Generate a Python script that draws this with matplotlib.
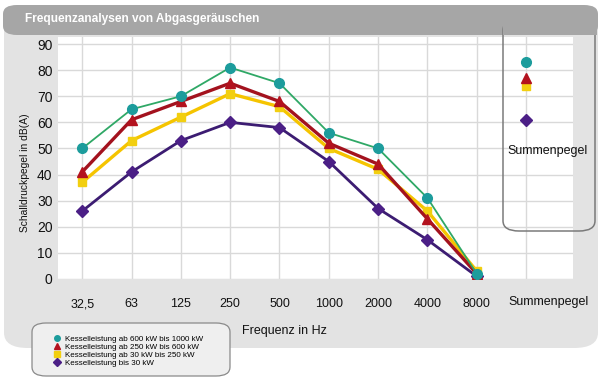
import matplotlib
matplotlib.use('Agg')
import matplotlib.pyplot as plt
from matplotlib.patches import FancyBboxPatch, Rectangle
from matplotlib.lines import Line2D

plt.rcParams['font.family'] = ['Liberation Sans', 'DejaVu Sans']

# data
frequencies = ['32,5', '63', '125', '250', '500', '1000', '2000', '4000', '8000']
sum_label = 'Summenpegel'
series_names = ['Kesselleistung ab 600 kW bis 1000 kW',
                'Kesselleistung ab 250 kW bis 600 kW',
                'Kesselleistung ab 30 kW bis 250 kW',
                'Kesselleistung bis 30 kW']
kw_600_1000 = [50, 65, 70, 81, 75, 56, 50, 31, 2]
kw_250_600 = [41, 61, 68, 75, 68, 52, 44, 23, 2]
kw_30_250 = [37, 53, 62, 71, 66, 50, 42, 26, 3]
kw_0_30 = [26, 41, 53, 60, 58, 45, 27, 15, 1]
sum_levels = [83, 77, 74, 61]

W, H = 600, 381
fig = plt.figure(figsize=(6, 3.81), dpi=100)
fig.patch.set_facecolor('white')


def box(x0, y0, x1, y1, r, **kw):
    # pixel coords, origin top-left
    p = FancyBboxPatch((x0 / W, 1 - y1 / H), (x1 - x0) / W, (y1 - y0) / H,
                       boxstyle='round,pad=0,rounding_size=%f' % (r / W),
                       transform=fig.transFigure, **kw)
    fig.add_artist(p)
    return p


# panel and banner
box(4, 8, 598, 348, 24, facecolor='#e3e3e3', edgecolor='none', zorder=0)
box(3, 5, 598, 35, 14, facecolor='#a6a6a6', edgecolor='none', zorder=1)
fig.text(25 / W, 1 - 19 / H, 'Frequenzanalysen von Abgasgeräuschen',
         color='white', fontsize=8.6, fontweight='bold', va='center', zorder=2)

ax = fig.add_axes([58 / W, 1 - 279 / H, (573 - 58) / W, (279 - 37) / H])
ax.set_facecolor('white')
ax.set_zorder(1)

x = list(range(len(frequencies)))
styles = [
    (kw_600_1000, '#2fa866', 1.3, 'o', '#1c9c9c', 7),
    (kw_250_600, '#a3121e', 2.4, '^', '#b3121e', 6.5),
    (kw_30_250, '#f5c400', 2.4, 's', '#f2cf10', 6),
    (kw_0_30, '#3c1c72', 2.0, 'D', '#4b1f86', 6),
]
handles = []
for i in reversed(range(4)):
    vals, lc, lw, mk, mc, ms = styles[i]
    ax.plot(x, vals, color=lc, lw=lw, marker=mk, markerfacecolor=mc,
            markeredgecolor=mc, markersize=ms, zorder=3 + (4 - i))
    ax.plot([len(frequencies)], [sum_levels[i]], linestyle='none', marker=mk,
            markerfacecolor=mc, markeredgecolor=mc, markersize=ms, zorder=3)
for i in range(4):
    vals, lc, lw, mk, mc, ms = styles[i]
    handles.append(Line2D([], [], linestyle='none', marker=mk, markersize=4,
                          markerfacecolor=mc, markeredgecolor=mc))

ax.set_xlim(-0.49, 9.95)
ax.set_ylim(0, 92.7)
ax.set_yticks(range(0, 91, 10))
ax.set_xticks(range(len(frequencies) + 1))
ax.set_xticklabels(frequencies + [''])
ax.tick_params(length=0, colors='#111111')
ax.tick_params(axis='x', pad=14, labelsize=9)
ax.tick_params(axis='y', pad=4, labelsize=10)
for s in ax.spines.values():
    s.set_visible(False)
ax.grid(True, color='#d9d9d9', lw=1)
ax.set_axisbelow(True)

# Summenpegel tick label sits left-aligned, not centred on its column
fig.text(508 / W, 1 - 302 / H, sum_label, fontsize=9, ha='left',
         va='center', color='#111111')

ax.set_xlabel('Frequenz in Hz', fontsize=9, color='#111111')
ax.xaxis.set_label_coords(0.44, -0.19)
ax.set_ylabel('Schalldruckpegel in dB(A)', fontsize=7.4, color='#111111')
ax.yaxis.set_label_coords(-0.055, 0.44)

# Summenpegel box
box(503, 20, 595, 231, 16, facecolor='none', edgecolor='#7a7a7a', lw=1.1, zorder=2)
fig.add_artist(Rectangle((503 / W, 1 - 35 / H), 94 / W, 17 / H,
                         transform=fig.transFigure, facecolor='#a6a6a6',
                         edgecolor='none', zorder=2))
fig.text(548 / W, 1 - 151 / H, 'Summenpegel', fontsize=9, ha='center',
         va='center', color='#111111', zorder=3)

# legend box
box(32, 323, 230, 376, 14, facecolor='#efefef', edgecolor='#8a8a8a', lw=0.9, zorder=2)
leg = fig.legend(handles, series_names, loc='upper left',
                 bbox_to_anchor=(49 / W, 1 - 331 / H), frameon=False,
                 fontsize=5.8, handlelength=1.0, handletextpad=0.5,
                 labelspacing=0.05, borderpad=0)
leg.set_zorder(4)

fig.savefig('out.png', dpi=100)
